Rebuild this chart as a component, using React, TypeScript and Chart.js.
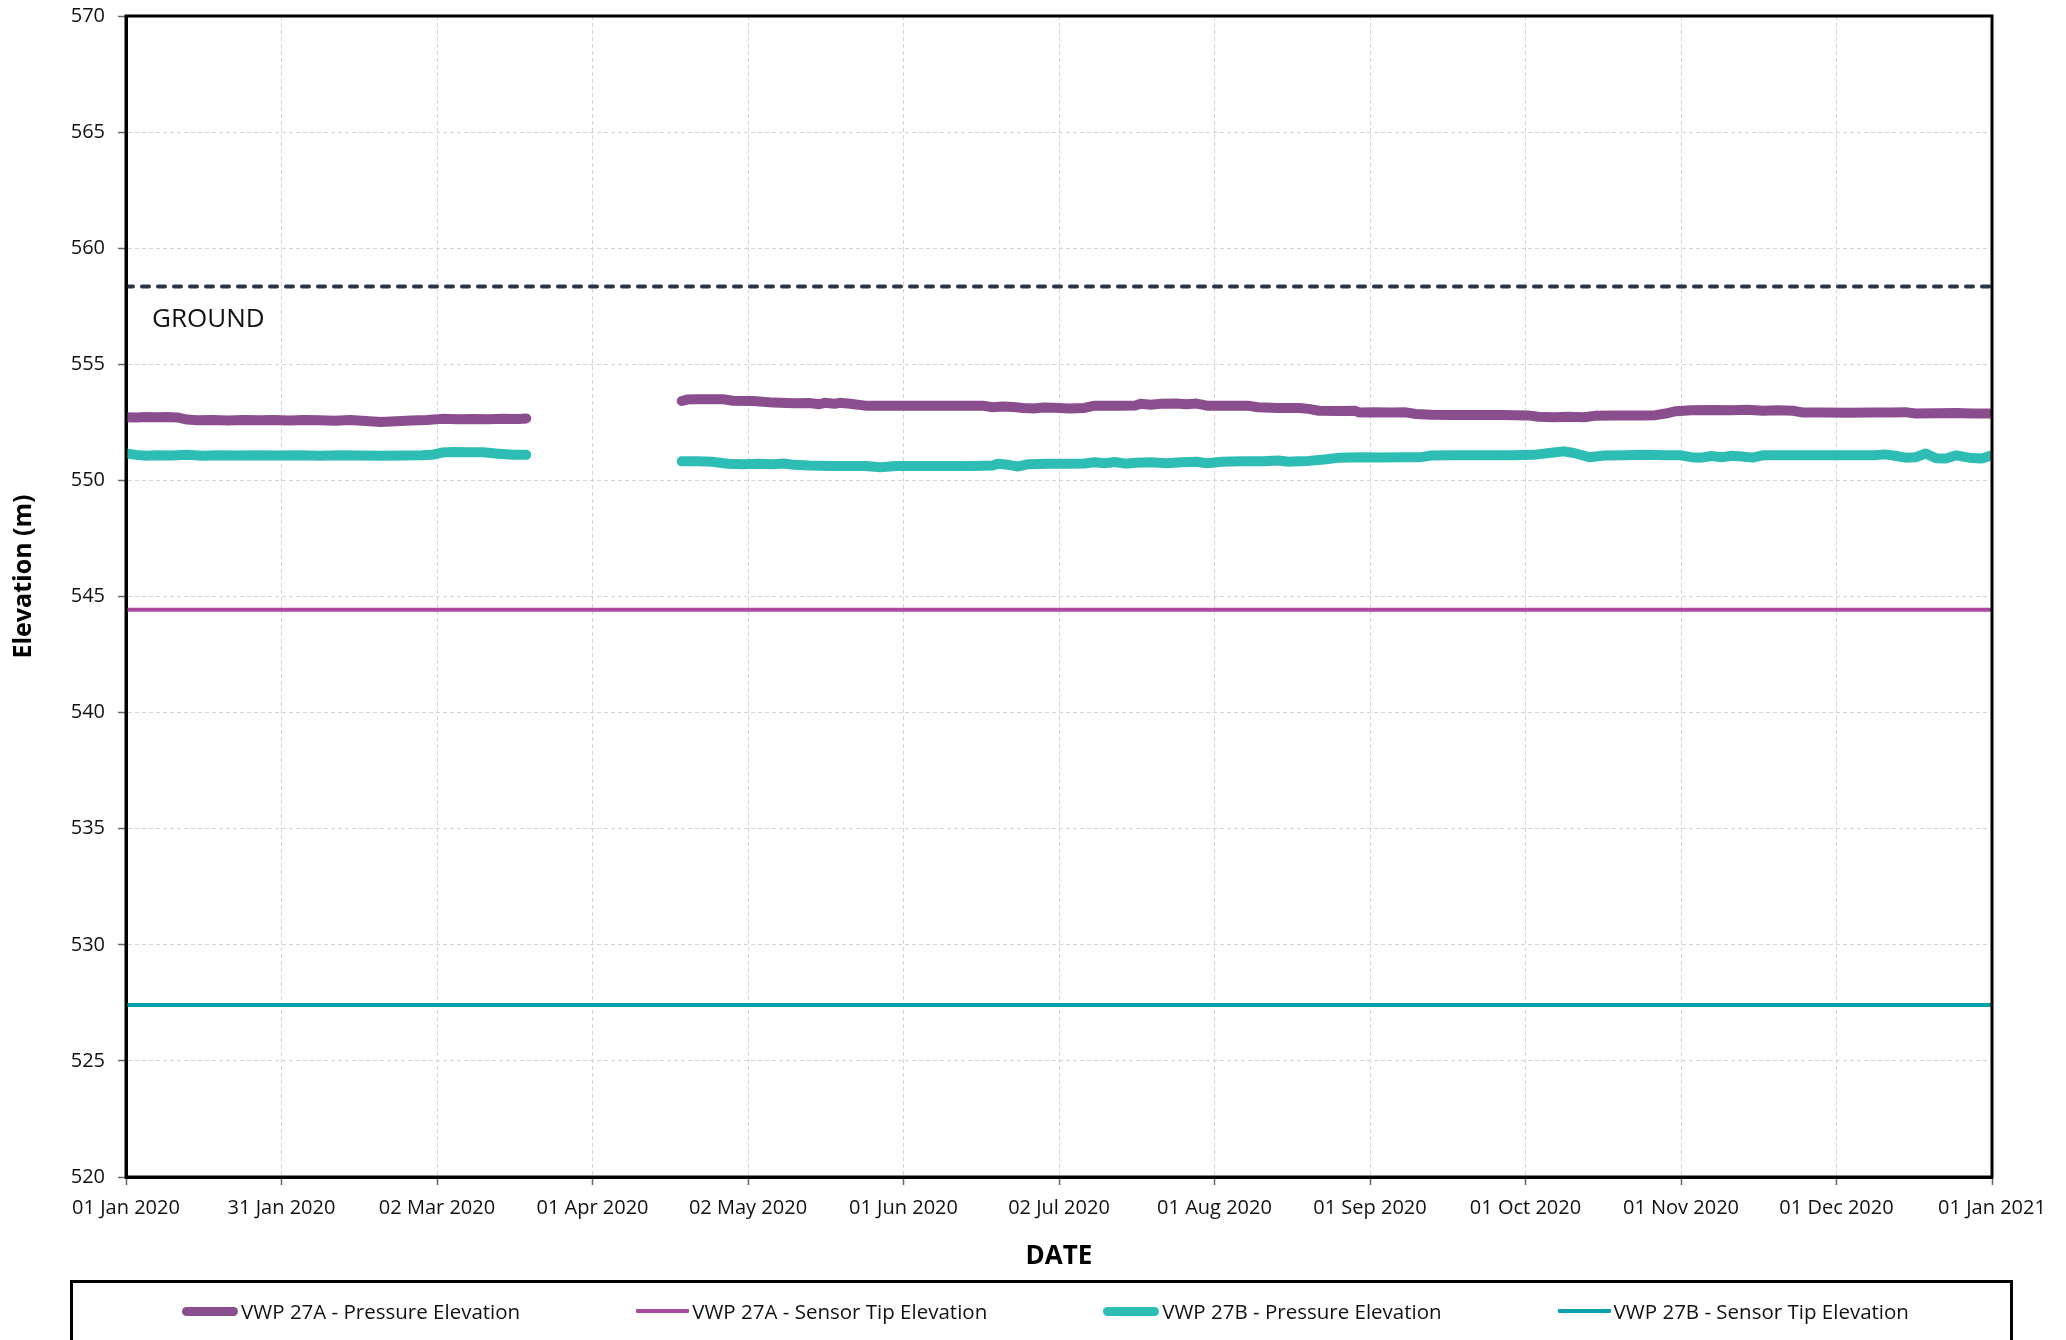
import React, { useEffect, useRef } from 'react';
import { Chart, registerables } from 'chart.js';

Chart.register(...registerables);

// ---------- data ----------
const X_TICK_DAYS = [0, 30.5, 61, 91.5, 122, 152.5, 183, 213.5, 244, 274.5, 305, 335.5, 366];
const X_TICK_LABELS = [
  '01 Jan 2020', '31 Jan 2020', '02 Mar 2020', '01 Apr 2020', '02 May 2020', '01 Jun 2020',
  '02 Jul 2020', '01 Aug 2020', '01 Sep 2020', '01 Oct 2020', '01 Nov 2020', '01 Dec 2020', '01 Jan 2021',
];
const X_MIN = 0;
const X_MAX = 366;
const Y_MIN = 520;
const Y_MAX = 570;
const Y_STEP = 5;
const X_TITLE = 'DATE';
const Y_TITLE = 'Elevation (m)';

const SERIES_NAMES = [
  'VWP 27A - Pressure Elevation',
  'VWP 27A - Sensor Tip Elevation',
  'VWP 27B - Pressure Elevation',
  'VWP 27B - Sensor Tip Elevation',
];
const SERIES_COLORS = ['#8A4E8E', '#AA479E', '#2EBDB5', '#0BA0AD'];
const GROUND_COLOR = '#263847';

const GROUND_ELEVATION = 558.35;
const TIP_27A_ELEVATION = 544.43;
const TIP_27B_ELEVATION = 527.41;
const GROUND_LABEL = 'GROUND';
const GROUND_LABEL_DAY = 5.1;
const GROUND_LABEL_VALUE = 556.93;

// day of year (from 01 Jan 2020) ; null value = gap in record
const VWP27A_DAYS = [
  0, 2, 4, 6, 8, 10, 12, 14, 17, 20, 23, 26, 29, 32, 35, 38, 41, 44, 47, 50, 53, 56, 59, 62, 65, 68, 71, 74, 77, 78.5,
  94,
  109, 110, 112, 117, 119, 123, 127, 131, 134, 136, 137, 139, 140, 142, 145, 150, 155, 160, 165, 168, 170, 172, 174,
  176, 178, 180, 182, 185, 188, 190, 195, 198, 199, 201, 203, 206, 208, 210, 212, 216, 220, 222, 226, 230, 232, 234,
  238, 241, 242, 245, 248, 251, 253, 256, 260, 265, 270, 275, 277, 280, 283, 286, 288, 292, 297, 300, 302, 304, 307,
  311, 315, 318, 321, 324, 327, 329, 333, 338, 342, 346, 349, 351, 355, 359, 362, 366,
];
const VWP27A_VALUES = [
  552.72, 552.71, 552.73, 552.72, 552.73, 552.71, 552.62, 552.59, 552.6, 552.58, 552.6, 552.59, 552.6, 552.58, 552.6,
  552.59, 552.57, 552.6, 552.56, 552.52, 552.55, 552.58, 552.6, 552.65, 552.63, 552.64, 552.63, 552.65, 552.64, 552.67,
  null,
  553.42, 553.48, 553.5, 553.5, 553.43, 553.42, 553.35, 553.32, 553.33, 553.28, 553.34, 553.3, 553.34, 553.3, 553.22,
  553.22, 553.22, 553.22, 553.22, 553.22, 553.15, 553.18, 553.16, 553.12, 553.1, 553.14, 553.13, 553.1, 553.12, 553.22,
  553.22, 553.23, 553.3, 553.26, 553.3, 553.31, 553.28, 553.31, 553.22, 553.22, 553.22, 553.15, 553.12, 553.12, 553.08,
  553.0, 552.99, 553.0, 552.92, 552.94, 552.92, 552.93, 552.86, 552.83, 552.82, 552.82, 552.82, 552.8, 552.74, 552.72,
  552.74, 552.72, 552.78, 552.8, 552.8, 552.81, 552.88, 552.98, 553.02, 553.03, 553.02, 553.04, 553.0, 553.02, 553.0,
  552.92, 552.92, 552.91, 552.92, 552.92, 552.94, 552.88, 552.89, 552.9, 552.88, 552.88,
];

const VWP27B_DAYS = [
  0, 2, 4, 6, 9, 12, 15, 18, 22, 26, 30, 34, 38, 42, 46, 50, 54, 58, 60, 62, 64, 67, 70, 73, 76, 78.5,
  94,
  109, 112, 115, 118, 121, 124, 127, 129, 131, 134, 138, 142, 145, 148, 151, 156, 161, 166, 170, 171, 173, 175, 177,
  181, 185, 188, 190, 192, 194, 196, 198, 201, 204, 207, 210, 212, 215, 219, 223, 226, 228, 230, 232, 235, 238, 242,
  246, 250, 254, 256, 260, 264, 268, 272, 276, 280, 282, 284, 287, 290, 294, 298, 302, 305, 307, 309, 311, 313, 315,
  317, 319, 321, 325, 330, 335, 340, 343, 345, 347, 349, 351, 353, 355, 357, 359, 362, 364, 366,
];
const VWP27B_VALUES = [
  551.16, 551.1, 551.06, 551.08, 551.07, 551.1, 551.06, 551.08, 551.07, 551.08, 551.07, 551.08, 551.06, 551.08, 551.07,
  551.06, 551.07, 551.08, 551.1, 551.2, 551.22, 551.21, 551.21, 551.15, 551.1, 551.1,
  null,
  550.82, 550.82, 550.8, 550.72, 550.7, 550.72, 550.7, 550.73, 550.67, 550.64, 550.62, 550.62, 550.62, 550.57, 550.62,
  550.62, 550.62, 550.62, 550.64, 550.72, 550.67, 550.6, 550.7, 550.72, 550.72, 550.73, 550.78, 550.74, 550.79, 550.72,
  550.76, 550.78, 550.74, 550.78, 550.8, 550.74, 550.8, 550.82, 550.82, 550.86, 550.8, 550.82, 550.84, 550.9, 550.98,
  551.0, 550.99, 551.0, 551.0, 551.07, 551.08, 551.08, 551.08, 551.08, 551.1, 551.2, 551.25, 551.18, 551.0, 551.07,
  551.08, 551.1, 551.08, 551.08, 551.0, 550.98, 551.05, 551.0, 551.06, 551.03, 550.98, 551.08, 551.08, 551.08, 551.08,
  551.08, 551.08, 551.12, 551.06, 550.98, 551.0, 551.16, 550.95, 550.94, 551.08, 550.96, 550.94, 551.08,
];

// ---------- layout ----------
const W = 2066;
const H = 1340;
const CANVAS_H = 1290;
const FONT = "'Open Sans', 'Noto Sans', sans-serif";

const toPoints = (days: number[], values: (number | null)[]) =>
  days.map((d, i) => ({ x: d, y: values[i] }));

export default function App() {
  const canvasRef = useRef<HTMLCanvasElement | null>(null);

  useEffect(() => {
    const canvas = canvasRef.current;
    if (!canvas) return;

    const framePlugin = {
      id: 'frame',
      afterDatasetsDraw(chart: any) {
        const { ctx, scales } = chart;
        ctx.save();
        ctx.font = `26px ${FONT}`;
        ctx.fillStyle = '#111';
        ctx.textAlign = 'left';
        ctx.textBaseline = 'middle';
        ctx.fillText(
          GROUND_LABEL,
          scales.x.getPixelForValue(GROUND_LABEL_DAY),
          scales.y.getPixelForValue(GROUND_LABEL_VALUE)
        );
        ctx.restore();
      },
      afterDraw(chart: any) {
        const { ctx, chartArea } = chart;
        ctx.save();
        ctx.strokeStyle = '#000';
        ctx.lineWidth = 3;
        ctx.strokeRect(chartArea.left, chartArea.top, chartArea.right - chartArea.left, chartArea.bottom - chartArea.top);
        // y axis title (drawn slightly above the plot centre, as in the source)
        ctx.translate(24, (chartArea.top + chartArea.bottom) / 2 - 20);
        ctx.rotate(-Math.PI / 2);
        ctx.font = `bold 25px ${FONT}`;
        ctx.fillStyle = '#000';
        ctx.textAlign = 'center';
        ctx.textBaseline = 'middle';
        ctx.fillText(Y_TITLE, 0, 0);
        ctx.restore();
      },
    };

    const chart = new Chart(canvas, {
      type: 'line',
      data: {
        datasets: [
          {
            label: 'Ground',
            data: [{ x: X_MIN, y: GROUND_ELEVATION }, { x: X_MAX, y: GROUND_ELEVATION }],
            borderColor: GROUND_COLOR,
            borderWidth: 4,
            borderDash: [7, 9],
            borderCapStyle: 'round',
            pointRadius: 0,
          },
          {
            label: SERIES_NAMES[1],
            data: [{ x: X_MIN, y: TIP_27A_ELEVATION }, { x: X_MAX, y: TIP_27A_ELEVATION }],
            borderColor: SERIES_COLORS[1],
            borderWidth: 4,
            pointRadius: 0,
          },
          {
            label: SERIES_NAMES[3],
            data: [{ x: X_MIN, y: TIP_27B_ELEVATION }, { x: X_MAX, y: TIP_27B_ELEVATION }],
            borderColor: SERIES_COLORS[3],
            borderWidth: 4,
            pointRadius: 0,
          },
          {
            label: SERIES_NAMES[0],
            data: toPoints(VWP27A_DAYS, VWP27A_VALUES),
            borderColor: SERIES_COLORS[0],
            borderWidth: 10,
            borderCapStyle: 'round',
            borderJoinStyle: 'round',
            pointRadius: 0,
            spanGaps: false,
          },
          {
            label: SERIES_NAMES[2],
            data: toPoints(VWP27B_DAYS, VWP27B_VALUES),
            borderColor: SERIES_COLORS[2],
            borderWidth: 10,
            borderCapStyle: 'round',
            borderJoinStyle: 'round',
            pointRadius: 0,
            spanGaps: false,
          },
        ],
      },
      options: {
        animation: false,
        responsive: false,
        maintainAspectRatio: false,
        layout: { padding: { top: 16, right: 74, left: 0, bottom: 0 } },
        plugins: {
          legend: { display: false },
          tooltip: { enabled: false },
          title: { display: false },
        },
        scales: {
          x: {
            type: 'linear',
            min: X_MIN,
            max: X_MAX,
            afterBuildTicks: (scale: any) => {
              scale.ticks = X_TICK_DAYS.map((v) => ({ value: v }));
            },
            afterFit: (scale: any) => {
              scale.height = CANVAS_H - 1177;
            },
            ticks: {
              autoSkip: false,
              maxRotation: 0,
              minRotation: 0,
              padding: 11,
              color: '#111',
              font: { family: FONT, size: 20 },
              callback: (_v: any, i: number) => X_TICK_LABELS[i],
            },
            grid: {
              color: '#d4d4d4',
              lineWidth: 1,
              tickLength: 8,
              tickColor: '#666',
              tickWidth: 1.5,
            },
            border: { display: true, color: '#000', width: 3, dash: [4, 3] },
            title: {
              display: true,
              text: X_TITLE,
              color: '#000',
              font: { family: FONT, size: 26, weight: 'bold' },
              padding: { top: 0, bottom: 18 },
            },
          },
          y: {
            type: 'linear',
            min: Y_MIN,
            max: Y_MAX,
            afterFit: (scale: any) => {
              scale.width = 126;
              scale.paddingTop = 0;
              scale.paddingBottom = 0;
            },
            ticks: {
              stepSize: Y_STEP,
              padding: 13,
              color: '#111',
              font: { family: FONT, size: 20 },
            },
            grid: {
              color: '#d4d4d4',
              lineWidth: 1,
              tickLength: 8,
              tickColor: '#666',
              tickWidth: 1.5,
            },
            border: { display: true, color: '#000', width: 3, dash: [4, 3] },
            title: { display: false },
          },
        },
      } as any,
      plugins: [framePlugin],
    });

    return () => chart.destroy();
  }, []);

  const legendItems = [0, 1, 2, 3];

  return (
    <div style={{ position: 'fixed', left: 0, top: 0, width: W, height: H, overflow: 'hidden', background: '#fff' }}>
      <canvas ref={canvasRef} width={W} height={CANVAS_H} style={{ position: 'absolute', left: 0, top: 0, width: W, height: CANVAS_H }} />
      <div
        style={{
          position: 'absolute',
          left: 70,
          top: 1280,
          width: 1943,
          height: 120,
          border: '3px solid #000',
          boxSizing: 'border-box',
        }}
      >
        <div
          style={{
            position: 'absolute',
            left: 0,
            right: 0,
            top: 0,
            height: 56,
            display: 'flex',
            alignItems: 'center',
            justifyContent: 'center',
            gap: 116,
            paddingLeft: 8,
          }}
        >
          {legendItems.map((i) => {
            const thick = i === 0 || i === 2;
            return (
              <div key={i} style={{ display: 'flex', alignItems: 'center' }}>
                <div
                  style={{
                    width: thick ? 56 : 53,
                    height: thick ? 9 : 4,
                    borderRadius: thick ? 5 : 1,
                    background: SERIES_COLORS[i],
                  }}
                />
                <span
                  style={{
                    marginLeft: 3,
                    fontFamily: FONT,
                    fontSize: 20.5,
                    color: '#111',
                    whiteSpace: 'nowrap',
                    lineHeight: '24px',
                  }}
                >
                  {SERIES_NAMES[i]}
                </span>
              </div>
            );
          })}
        </div>
      </div>
    </div>
  );
}
